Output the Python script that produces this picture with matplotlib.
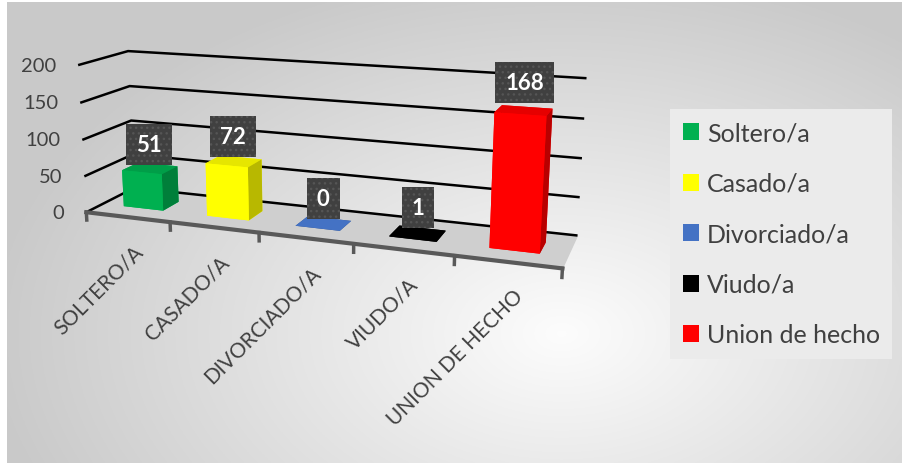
import numpy as np
import matplotlib.pyplot as plt
from matplotlib.patches import Patch
from matplotlib.colors import to_rgb
from mpl_toolkits.mplot3d import proj3d

categories = ['SOLTERO/A', 'CASADO/A', 'DIVORCIADO/A', 'VIUDO/A', 'UNION DE HECHO']
series_names = ['Soltero/a', 'Casado/a', 'Divorciado/a', 'Viudo/a', 'Union de hecho']
values = [51, 72, 0, 1, 168]
colors = ['#00b050', '#ffff00', '#4472c4', '#000000', '#ff0000']
z_ticks = [0, 50, 100, 150, 200]

plt.rcParams['font.family'] = ['Lato', 'DejaVu Sans']
text_color = '#404040'
px = 72 / 100  # points per pixel

fig = plt.figure(figsize=(9.02, 4.64), dpi=100)

# radial gradient background
bg = fig.add_axes([7 / 902, 0, 1 - 7 / 902, 1 - 3 / 464])
yy, xx = np.mgrid[0:1:300j, 0:1:600j]
r = np.sqrt(((xx - 0.62) * 1.25) ** 2 + (yy - 0.72) ** 2)
shade = 0.99 - 0.2 * np.clip(r / 0.8, 0, 1)
bg.imshow(np.dstack([shade] * 3), aspect='auto', extent=(0, 1, 1, 0))
bg.set_axis_off()

# 3d chart, view fitted to the reference perspective
side = 640
cx, cy = 314.6, 158.4
ax = fig.add_axes([(cx - side / 2) / 902, (464 - cy - side / 2) / 464, side / 902, side / 464],
                  projection='3d')
ax.set_facecolor((0, 0, 0, 0))
ax.set_xlim(-0.5, 4.5)
ax.set_ylim(0, 1)
ax.set_zlim(0, 200)
ax.set_box_aspect((1, 0.2007, 0.3160), zoom=0.8024)
ax.view_init(elev=13.863, azim=-69.579, roll=0.085)
ax.set_proj_type('persp', focal_length=0.3151)

ax.xaxis.set_pane_color((1, 1, 1, 0))
ax.yaxis.set_pane_color((1, 1, 1, 0))
ax.zaxis.set_pane_color('#cfcfcf')

ax.xaxis._axinfo['grid'].update(color=(0, 0, 0, 0), linewidth=0)
ax.yaxis._axinfo['grid'].update(color=(0, 0, 0, 0), linewidth=0)
ax.zaxis._axinfo['grid'].update(color='black', linewidth=1.8, linestyle='-')

ax.xaxis.line.set_color('#595959')
ax.xaxis.line.set_linewidth(3)
ax.yaxis.line.set_color((0, 0, 0, 0))
ax.zaxis.line.set_color((0, 0, 0, 0))

bounds = np.arange(len(categories) + 1) - 0.5
ax.set_xticks(bounds)
ax.set_xticklabels([])
ax.set_yticks([])
ax.set_zticks(z_ticks)
ax.set_zticklabels([])
for a in (ax.xaxis, ax.yaxis, ax.zaxis):
    a._axinfo['tick'].update(inward_factor=0, outward_factor=0)
    a.label.set_visible(False)
    a.get_offset_text().set_visible(False)
for a in (ax, bg):
    for t in (a.title, a._left_title, a._right_title):
        t.set_visible(False)

# tick marks under the front edge
for b in bounds:
    ax.plot([b, b], [0, 0], [0, -11], color='#595959', lw=2.5)


def tint(c, k):
    return tuple(min(1, ch * k) for ch in to_rgb(c))


for i, v in enumerate(values):
    c = colors[i]
    # faces: bottom, top, front, back, left, right
    faces = [c, tint(c, 0.9 if v > 5 else 0.7), c, c, c, tint(c, 0.72)]
    ax.bar3d(i - 0.24, 0.33, 0, 0.48, 0.35, v, color=faces, shade=False, linewidth=0)
    ax.text(i, 0.5, v + 34, str(v), ha='center', va='center', color='white',
            fontsize=16, fontweight='bold', zorder=100,
            bbox=dict(boxstyle='square,pad=0.45', fc='#404040', ec='#555555', lw=0, hatch='...'))

# 2d labels placed at projected points
M = ax.get_proj()


def to2d(x, y, z):
    x2, y2, _ = proj3d.proj_transform(x, y, z, M)
    return x2, y2


for i, c in enumerate(categories):
    ax.annotate(c, xy=to2d(i, 0, 0), xycoords='data', xytext=(5 * px, -24 * px),
                textcoords='offset points', rotation=45, ha='right', va='top',
                rotation_mode='anchor', fontsize=15, color=text_color, annotation_clip=False)

for z in z_ticks:
    ax.annotate(str(z), xy=to2d(-0.5, 0, z), xycoords='data', xytext=(-22 * px, 0),
                textcoords='offset points', ha='right', va='center', fontsize=14.5,
                color=text_color, annotation_clip=False)

handles = [Patch(facecolor=c) for c in colors]
leg = fig.legend(handles, series_names, loc='center left', bbox_to_anchor=(670 / 902, 1 - 235 / 464),
                 frameon=True, fancybox=False, facecolor='#ebebeb', edgecolor='none',
                 fontsize=18, labelcolor=text_color, handlelength=0.65, handleheight=0.65,
                 handletextpad=0.32, labelspacing=1.1, borderpad=0.5, borderaxespad=0)
leg.get_frame().set_alpha(1)

fig.savefig('out.png', dpi=100)
